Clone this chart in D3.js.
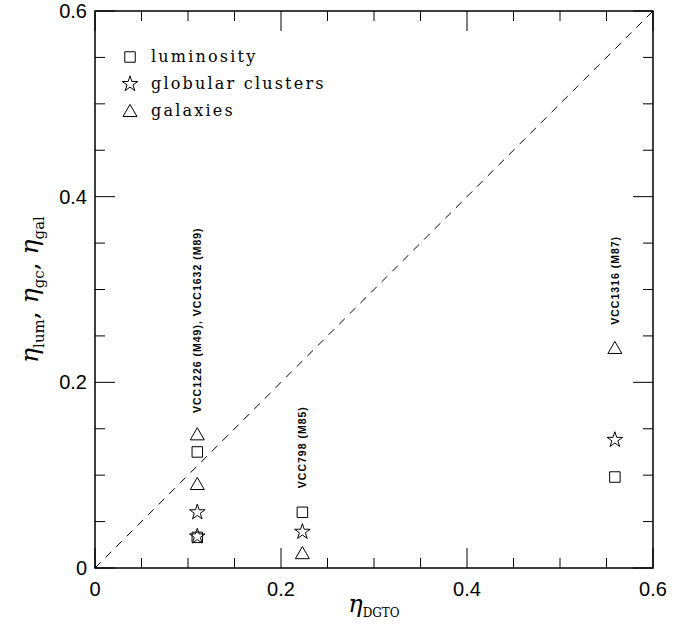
<!DOCTYPE html>
<html>
<head>
<meta charset="utf-8">
<script src="https://cdn.jsdelivr.net/npm/d3@7"></script>
<style>
  body { margin: 0; background: #fff; }
  .tick-label { font-family: "Liberation Sans", Arial, sans-serif; font-size: 20px; }
  .legend text { font-family: "DejaVu Serif", serif; font-size: 16px; letter-spacing: 2.2px; }
  .note { font-family: "Liberation Sans", Arial, sans-serif; font-size: 10.5px; font-weight: bold; letter-spacing: 1px; }
</style>
</head>
<body>
<svg id="chart" width="696" height="632"></svg>
<script>
// groups of galaxies (eta_DGTO)
var groupX = [0.110, 0.223, 0.559];
var groupNotes = ["VCC1226 (M49), VCC1632 (M89)", "VCC798 (M85)", "VCC1316 (M87)"];

// measurements per type, [eta_DGTO, value]
var lumPoints = [[0.110, 0.125], [0.110, 0.033], [0.223, 0.060], [0.559, 0.098]];
var gcPoints = [[0.110, 0.060], [0.110, 0.034], [0.223, 0.039], [0.559, 0.138]];
var galPoints = [[0.110, 0.144], [0.110, 0.0905], [0.223, 0.016], [0.559, 0.237]];

var legendLabels = ["luminosity", "globular clusters", "galaxies"];
var majorTicks = [0, 0.2, 0.4, 0.6];
var minorTicks = d3.range(0, 0.601, 0.05);

var svg = d3.select("#chart");
var margin = {top: 11, right: 43, bottom: 64, left: 95};
var width = 696 - margin.left - margin.right;
var height = 632 - margin.top - margin.bottom;

var g = svg.append("g")
  .attr("transform", "translate(" + margin.left + "," + margin.top + ")");

var x = d3.scaleLinear().domain([0, 0.6]).range([0, width]);
var y = d3.scaleLinear().domain([0, 0.6]).range([height, 0]);

// frame
g.append("rect")
  .attr("width", width).attr("height", height)
  .attr("fill", "none").attr("stroke", "#000").attr("stroke-width", 1.5);

// inward ticks on all four sides
function tickLen(v) {
  return Math.abs(v / 0.2 - Math.round(v / 0.2)) < 1e-6 ? 20 : 10;
}
minorTicks.forEach(function(v) {
  var L = tickLen(v);
  g.append("line").attr("x1", x(v)).attr("x2", x(v)).attr("y1", height).attr("y2", height - L)
    .attr("stroke", "#000");
  g.append("line").attr("x1", x(v)).attr("x2", x(v)).attr("y1", 0).attr("y2", L)
    .attr("stroke", "#000");
  g.append("line").attr("y1", y(v)).attr("y2", y(v)).attr("x1", 0).attr("x2", L)
    .attr("stroke", "#000");
  g.append("line").attr("y1", y(v)).attr("y2", y(v)).attr("x1", width).attr("x2", width - L)
    .attr("stroke", "#000");
});

// tick labels
g.selectAll(".xl").data(majorTicks).enter().append("text")
  .attr("class", "tick-label")
  .attr("x", function(d) { return x(d); })
  .attr("y", height + 28)
  .attr("text-anchor", "middle")
  .text(function(d) { return d === 0 ? "0" : d.toFixed(1); });

g.selectAll(".yl").data(majorTicks).enter().append("text")
  .attr("class", "tick-label")
  .attr("x", -8)
  .attr("y", function(d) { return y(d) + 7; })
  .attr("text-anchor", "end")
  .text(function(d) { return d === 0 ? "0" : d.toFixed(1); });

// one-to-one line
g.append("line")
  .attr("x1", x(0)).attr("y1", y(0)).attr("x2", x(0.6)).attr("y2", y(0.6))
  .attr("stroke", "#000").attr("stroke-dasharray", "8,7");

// markers
var square = d3.symbol().type(d3.symbolSquare).size(110);
var star = d3.symbol().type(d3.symbolStar).size(75);
var triangle = d3.symbol().type(d3.symbolTriangle).size(85);

function drawMarks(points, sym, dy) {
  g.selectAll(null).data(points).enter().append("path")
    .attr("d", sym)
    .attr("transform", function(d) { return "translate(" + x(d[0]) + "," + (y(d[1]) + dy) + ")"; })
    .attr("fill", "none").attr("stroke", "#000").attr("stroke-width", 1);
}
drawMarks(lumPoints, square, 0);
drawMarks(gcPoints, star, 0);
drawMarks(galPoints, triangle, 1.5);

// group labels, vertical
var noteBase = [0.167, 0.086, 0.262];
g.selectAll(".note").data(groupNotes).enter().append("text")
  .attr("class", "note")
  .attr("transform", function(d, i) {
    return "translate(" + (x(groupX[i]) + 4) + "," + y(noteBase[i]) + ") rotate(-90)";
  })
  .text(function(d) { return d; });

// legend
var legend = g.append("g").attr("class", "legend");
var legendSyms = [square, star, triangle];
legendLabels.forEach(function(label, i) {
  var ly = 46 + i * 27;
  legend.append("path")
    .attr("d", legendSyms[i])
    .attr("transform", "translate(35," + (ly + (i === 2 ? 1.5 : 0)) + ")")
    .attr("fill", "none").attr("stroke", "#000");
  legend.append("text")
    .attr("x", 56).attr("y", ly + 5)
    .text(label);
});

// axis titles
var xt = svg.append("text")
  .attr("x", margin.left + x(0.3)).attr("y", 612)
  .attr("text-anchor", "middle")
  .attr("font-family", "DejaVu Serif, serif");
xt.append("tspan").attr("font-size", 24).attr("font-style", "italic").text("η");
xt.append("tspan").attr("font-size", 12).attr("dy", 5).text("DGTO");

var yt = svg.append("text")
  .attr("transform", "translate(38," + (margin.top + y(0.3)) + ") rotate(-90)")
  .attr("text-anchor", "middle")
  .attr("font-family", "DejaVu Serif, serif");
[["lum", ", "], ["gc", ", "], ["gal", ""]].forEach(function(p) {
  yt.append("tspan").attr("font-size", 25).attr("font-style", "italic").attr("dy", 0).text("η");
  yt.append("tspan").attr("font-size", 15).attr("dy", 6).text(p[0]);
  yt.append("tspan").attr("font-size", 25).attr("dy", -6).text(p[1]);
});
</script>
</body>
</html>
